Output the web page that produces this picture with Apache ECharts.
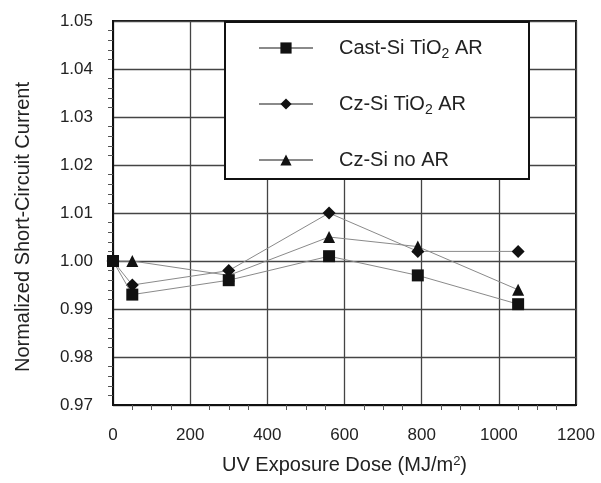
<!DOCTYPE html>
<html>
<head>
<meta charset="utf-8">
<script src="https://cdn.jsdelivr.net/npm/echarts@6/dist/echarts.min.js"></script>
<style>html,body{margin:0;padding:0;background:#fff}#c{width:601px;height:483px}</style>
</head>
<body>
<div id="c"></div>
<script>
const doses = [0, 50, 300, 560, 790, 1050];
const castSiTiO2 = [1.000, 0.993, 0.996, 1.001, 0.997, 0.991];
const czSiTiO2 = [1.000, 0.995, 0.998, 1.010, 1.002, 1.002];
const czSiNoAR = [1.000, 1.000, 0.997, 1.005, 1.003, 0.994];
const seriesNames = ['Cast-Si TiO{sub|2} AR', 'Cz-Si TiO{sub|2} AR', 'Cz-Si no AR'];
const xTicks = [0, 200, 400, 600, 800, 1000, 1200];
const yTicks = [0.97, 0.98, 0.99, 1.00, 1.01, 1.02, 1.03, 1.04, 1.05];

const FONT = '"Liberation Sans", Arial, sans-serif';
const pair = (xs, ys) => xs.map((x, i) => [x, ys[i]]);

const chart = echarts.init(document.getElementById('c'), null, {renderer: 'canvas'});
const lineStyle = {color: '#8a8a8a', width: 1};
chart.setOption({
  animation: false,
  backgroundColor: '#fff',
  grid: {left: 113, right: 25, top: 21, bottom: 78, show: true, borderColor: '#111', borderWidth: 2, backgroundColor: 'transparent'},
  graphic: [{
    type: 'rect', z: 3, left: 224, top: 21,
    shape: {width: 304, height: 157},
    style: {fill: '#fff', stroke: '#111', lineWidth: 2}
  }],
  legend: {
    z: 6, padding: 0,
    orient: 'vertical', left: 258, top: 35,
    itemWidth: 54, itemHeight: 14, itemGap: 30,
    data: seriesNames,
    textStyle: {
      fontFamily: FONT, fontSize: 20, color: '#222', padding: [0, 0, 0, 21], lineHeight: 26,
      rich: {sub: {fontFamily: FONT, fontSize: 14, color: '#222', verticalAlign: 'bottom', lineHeight: 14}}
    }
  },
  xAxis: {
    type: 'value', min: 0, max: 1200, interval: 200,
    axisLine: {show: true, lineStyle: {color: '#111', width: 2}},
    axisTick: {show: false},
    minorTick: {show: true, splitNumber: 4, length: 5, lineStyle: {color: '#555', width: 1}},
    splitLine: {show: true, lineStyle: {color: '#444', width: 1.3}},
    axisLabel: {fontFamily: FONT, fontSize: 17, color: '#222', margin: 22, formatter: v => String(v)},
    name: 'UV Exposure Dose (MJ/m{sup|2})',
    nameLocation: 'middle', nameGap: 50,
    nameTextStyle: {fontFamily: FONT, fontSize: 20, color: '#222',
      rich: {sup: {fontFamily: FONT, fontSize: 13, color: '#222', verticalAlign: 'top', lineHeight: 10, padding: [0, 0, 10, 0]}}}
  },
  yAxis: {
    type: 'value', min: 0.97, max: 1.05, interval: 0.01,
    axisLine: {show: true, lineStyle: {color: '#111', width: 2}},
    axisTick: {show: false},
    minorTick: {show: true, splitNumber: 5, length: 5, lineStyle: {color: '#555', width: 1}},
    splitLine: {show: true, lineStyle: {color: '#444', width: 1.3}},
    axisLabel: {fontFamily: FONT, fontSize: 17, color: '#222', margin: 20, formatter: v => v.toFixed(2)},
    name: 'Normalized Short-Circuit Current',
    nameLocation: 'middle', nameGap: 80, nameRotate: 90,
    nameTextStyle: {fontFamily: FONT, fontSize: 20, color: '#222', padding: [0, 28, 0, 0]}
  },
  series: [
    {name: seriesNames[0], type: 'line', z: 5, data: pair(doses, castSiTiO2), symbol: 'rect', symbolSize: 12,
     itemStyle: {color: '#111'}, lineStyle: lineStyle},
    {name: seriesNames[1], type: 'line', z: 4, data: pair(doses, czSiTiO2), symbol: 'diamond', symbolSize: 13,
     itemStyle: {color: '#111'}, lineStyle: lineStyle},
    {name: seriesNames[2], type: 'line', z: 4, data: pair(doses, czSiNoAR), symbol: 'triangle', symbolSize: 12,
     itemStyle: {color: '#111'}, lineStyle: lineStyle}
  ]
});
</script>
</body>
</html>
